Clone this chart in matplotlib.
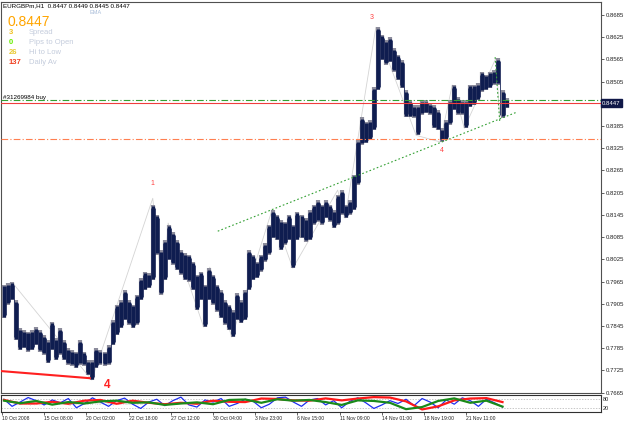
import numpy as np
import matplotlib
matplotlib.use("Agg")
import matplotlib.pyplot as plt
from matplotlib.transforms import blended_transform_factory

plt.rcParams['font.family'] = ['Liberation Sans', 'DejaVu Sans']

# EURGBPm H1, high / low of every group of 6 hourly bars
block_high = [0.7956, 0.7961, 0.7964, 0.7915, 0.7839, 0.7834, 0.7829, 0.7834, 0.7842, 0.7834,
              0.7820, 0.7807, 0.7856, 0.7812, 0.7839, 0.7807, 0.7785, 0.7780, 0.7775, 0.7807,
              0.7775, 0.7753, 0.7753, 0.7785, 0.7780, 0.7775, 0.7793, 0.7861, 0.7902, 0.7915,
              0.7942, 0.7915, 0.7902, 0.7929, 0.7974, 0.7991, 0.7988, 0.8172, 0.8145, 0.8050,
              0.8077, 0.8118, 0.8098, 0.8077, 0.8050, 0.8042, 0.8037, 0.8018, 0.7983, 0.7991,
              0.7956, 0.8001, 0.7983, 0.7956, 0.7942, 0.7915, 0.7902, 0.7888, 0.7934, 0.7915,
              0.7942, 0.8050, 0.8037, 0.8018, 0.8037, 0.8069, 0.8118, 0.8158, 0.8145, 0.8131,
              0.8126, 0.8145, 0.8118, 0.8153, 0.8145, 0.8136, 0.8158, 0.8172, 0.8185, 0.8172,
              0.8185, 0.8172, 0.8158, 0.8199, 0.8212, 0.8172, 0.8185, 0.8253, 0.8347, 0.8409,
              0.8396, 0.8401, 0.8490, 0.8652, 0.8631, 0.8617, 0.8625, 0.8595, 0.8577, 0.8563,
              0.8482, 0.8455, 0.8441, 0.8441, 0.8455, 0.8455, 0.8447, 0.8441, 0.8428, 0.8379,
              0.8401, 0.8455, 0.8496, 0.8463, 0.8455, 0.8455, 0.8496, 0.8496, 0.8501, 0.8531,
              0.8523, 0.8531, 0.8536, 0.8568, 0.8482, 0.8460]
block_low = [0.7866, 0.7902, 0.7915, 0.7807, 0.7780, 0.7785, 0.7775, 0.7780, 0.7793, 0.7775,
             0.7767, 0.7745, 0.7780, 0.7753, 0.7767, 0.7753, 0.7740, 0.7737, 0.7731, 0.7740,
             0.7737, 0.7712, 0.7699, 0.7731, 0.7740, 0.7737, 0.7740, 0.7793, 0.7820, 0.7839,
             0.7861, 0.7848, 0.7839, 0.7848, 0.7915, 0.7942, 0.7947, 0.7969, 0.8037, 0.7929,
             0.7969, 0.8023, 0.8010, 0.7996, 0.7983, 0.7969, 0.7964, 0.7942, 0.7888, 0.7915,
             0.7842, 0.7915, 0.7902, 0.7883, 0.7866, 0.7848, 0.7834, 0.7815, 0.7861, 0.7853,
             0.7861, 0.7942, 0.7969, 0.7974, 0.7991, 0.8018, 0.8037, 0.8082, 0.8077, 0.8050,
             0.8064, 0.8077, 0.8001, 0.8077, 0.8082, 0.8072, 0.8077, 0.8118, 0.8126, 0.8118,
             0.8136, 0.8126, 0.8109, 0.8118, 0.8145, 0.8136, 0.8145, 0.8158, 0.8226, 0.8334,
             0.8339, 0.8347, 0.8374, 0.8482, 0.8563, 0.8550, 0.8558, 0.8531, 0.8509, 0.8487,
             0.8409, 0.8409, 0.8407, 0.8360, 0.8415, 0.8420, 0.8415, 0.8379, 0.8374, 0.8342,
             0.8347, 0.8388, 0.8428, 0.8415, 0.8415, 0.8379, 0.8436, 0.8441, 0.8455, 0.8477,
             0.8482, 0.8487, 0.8496, 0.8496, 0.8407, 0.8433]
bars_per_block = 6

# zigzag pivots (bar index, price)
zz_bar = [16, 134, 225, 240, 248, 301, 310, 343, 403, 434, 501, 512, 558, 618, 654, 672, 690, 737, 743]
zz_price = [0.7961, 0.7699, 0.8190, 0.7929, 0.8123, 0.7842, 0.8004, 0.7815, 0.8158, 0.8001,
            0.8212, 0.8136, 0.8652, 0.8360, 0.8342, 0.8496, 0.8379, 0.8568, 0.8407]

# stochastic sub window
blue_vals = [80, 30, 60, 92, 70, 40, 75, 55, 85, 20, 50, 90, 60, 30, 70, 88, 45, 15, 60, 80,
             35, 70, 95, 40, 25, 75, 60, 85, 30, 50, 80, 65, 20, 45, 90, 95, 60, 30, 75, 85,
             40, 70, 20, 65, 90, 55, 15, 40, 70, 50, 80, 35, 85, 60, 20, 75, 45, 90, 70, 30,
             80, 55, 25]
red_vals = [75, 50, 50, 62, 48, 70, 75, 48, 70, 55, 45, 55, 48, 70, 62, 60, 85, 82, 72, 70,
            86, 72, 85, 95, 92, 65, 8, 30, 72, 85, 88, 60]
green_vals = [70, 52, 68, 42, 60, 50, 65, 70, 55, 58, 40, 50, 58, 45, 75, 78, 55, 80, 70, 75,
              60, 40, 72, 68, 55, 10, 25, 68, 86, 55, 70, 28]

tick_labels = ["10 Oct 2008", "15 Oct 08:00", "20 Oct 02:00", "22 Oct 18:00", "27 Oct 12:00",
               "30 Oct 04:00", "3 Nov 23:00", "6 Nov 15:00", "11 Nov 09:00", "14 Nov 01:00",
               "18 Nov 19:00", "21 Nov 11:00"]
bars_per_tick = 63
price_ticks = [0.8685, 0.8625, 0.8565, 0.8505, 0.8385, 0.8325, 0.8265, 0.8205, 0.8145,
               0.8085, 0.8025, 0.7965, 0.7905, 0.7845, 0.7785, 0.7725, 0.7665]

bid = 0.8447
order_price = 0.8456
support = 0.8350
trend_bar = [322, 769]
trend_price = [0.8101, 0.8423]
drop_bar = [736, 743]
drop_price = [0.8571, 0.8393]
base_bar = [0, 131]
base_price = [0.7723, 0.7704]

W, H = 625, 424
fig = plt.figure(figsize=(W / 100, H / 100), dpi=100)
fig.patch.set_facecolor('white')

ax = fig.add_axes([1 / W, 1 - 393 / H, 600 / W, 391 / H])
ax2 = fig.add_axes([1 / W, 1 - 412 / H, 600 / W, 17 / H])

xmin, xmax = -1.5, 894
ax.set_xlim(xmin, xmax)
ax.set_ylim(0.7664, 0.8720)

# price bars: gray wicks, navy bodies, thin joins between neighbouring groups
bx = np.arange(len(block_high)) * bars_per_block + 3
hi = np.array(block_high)
lo = np.array(block_low)
ax.vlines(bx, lo, hi, color='#8c8c9c', lw=3.0, zorder=3)
ax.vlines(bx, lo + 0.0004, hi - 0.0004, color='#0f1d50', lw=2.3, zorder=4)
ax.vlines(bx[:-1] + 3, np.minimum(lo[:-1], lo[1:]) + 0.0008,
          np.maximum(hi[:-1], hi[1:]) - 0.0008, color='#1a2658', lw=0.6, zorder=4)

# zigzag
ax.plot(zz_bar, zz_price, color='#d4d4d4', lw=0.6, zorder=2)

# levels and trend lines
ax.axhline(order_price, color='#33a033', lw=0.8, ls=(0, (6, 2, 1, 2)), zorder=5)
ax.axhline(bid, color='#f03c3c', lw=0.8, zorder=5)
ax.axhline(support, color='#ff7f50', lw=0.8, ls=(0, (6, 2, 1, 2)), zorder=5)
ax.plot(trend_bar, trend_price, color='#33a033', lw=0.8, ls=(0, (1.5, 2)), zorder=5)
ax.plot(drop_bar, drop_price, color='#33a033', lw=0.8, ls=(0, (1.5, 2)), zorder=5)
ax.plot(base_bar, base_price, color='#ff2020', lw=1.5, zorder=5)

# wave labels
ax.text(225, 0.8231, "1", color='#ff4040', fontsize=5, ha='center', va='center')
ax.text(352, 0.7880, "2", color='#ff4040', fontsize=5, ha='center', va='center')
ax.text(552, 0.8679, "3", color='#ff4040', fontsize=5, ha='center', va='center')
ax.text(657, 0.8320, "4", color='#ff4040', fontsize=5, ha='center', va='center')
ax.text(157, 0.7685, "4", color='#ff2020', fontsize=8.5, fontweight='bold', ha='center', va='center')

# right price scale
ax.yaxis.tick_right()
ax.set_yticks(price_ticks)
ax.set_yticklabels(["%.4f" % p for p in price_ticks])
ax.tick_params(axis='y', length=2, width=0.5, pad=1.5, labelsize=4.3, colors='#222222')
ax.set_xticks([])
for s in ax.spines.values():
    s.set_color('#505050')
    s.set_linewidth(0.8)

tr = blended_transform_factory(ax.transAxes, ax.transData)
ax.text(1.002, bid, "0.8447", transform=tr, ha='left', va='center', fontsize=4.3, color='white',
        bbox=dict(boxstyle='square,pad=0.25', fc='#101848', ec='#101848'))

# stochastic pane
ax2.set_xlim(xmin, xmax)
ax2.set_ylim(-10, 110)
ax2.axhline(80, color='#b0b0b0', lw=0.5, ls=(0, (2, 2)))
ax2.axhline(20, color='#b0b0b0', lw=0.5, ls=(0, (2, 2)))
ax2.text(20, 50, "Stoch(5,3,3)  Main  Signal  Slow MA 5(3)  Smoothed", color='#c8c8c8',
         fontsize=4, va='center')
ax2.plot(np.arange(len(blue_vals)) * 12 + 3, blue_vals, color='#1f2ff0', lw=0.9, zorder=3)
ax2.plot(np.arange(len(red_vals)) * 24 + 3, red_vals, color='#ff1a1a', lw=1.6, zorder=4)
ax2.plot(np.arange(len(green_vals)) * 24 + 3, green_vals, color='#1a8a1a', lw=1.6, zorder=5)
ax2.yaxis.tick_right()
ax2.set_yticks([80, 20])
ax2.set_yticklabels(["80", "20"])
ax2.tick_params(axis='y', length=0, pad=1.5, labelsize=4, colors='#222222')
ax2.set_xticks(np.arange(len(tick_labels)) * bars_per_tick)
ax2.set_xticklabels(tick_labels, ha='left')
ax2.tick_params(axis='x', length=2, width=0.5, pad=1, labelsize=3.6, colors='#222222')
for s in ax2.spines.values():
    s.set_color('#303030')
    s.set_linewidth(0.8)

# info block at top left
def px_text(x, y, s, **kw):
    fig.text(x / W, 1 - y / H, s, va='center', ha='left', **kw)

px_text(3, 6, "EURGBPm,H1  0.8447 0.8449 0.8445 0.8447", fontsize=4.5, color='black')
px_text(90, 13, "EMA", fontsize=4, color='#a8bcd8')
px_text(8, 22.5, "0.8447", fontsize=10, color='#ffa500')
rows = [("3", '#f0c020', "Spread"), ("0", '#66ee00', "Pips to Open"),
        ("26", '#e8c830', "Hi to Low"), ("137", '#f04020', "Daily Av")]
for i, (num, col, lab) in enumerate(rows):
    y = 33 + i * 9.8
    px_text(9, y, num, fontsize=5.5, color=col, fontweight='bold')
    px_text(29, y, lab, fontsize=5.5, color='#c4ccdc')
px_text(3, 97, "#31269984 buy", fontsize=4.5, color='black')

fig.savefig("out.png", dpi=100)
